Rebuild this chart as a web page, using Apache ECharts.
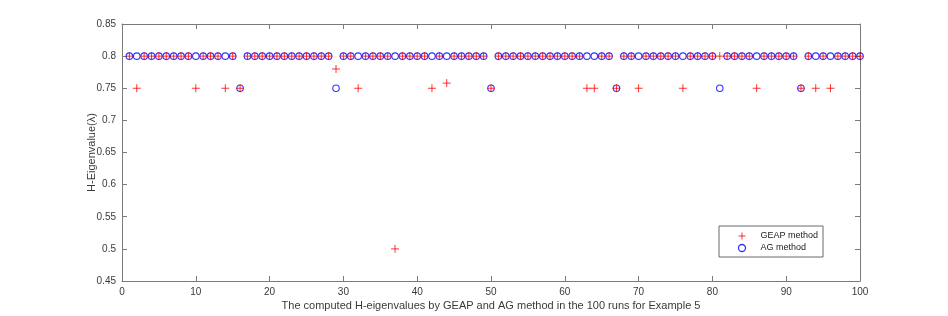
<!DOCTYPE html>
<html>
<head>
<meta charset="utf-8">
<script src="https://cdn.jsdelivr.net/npm/echarts@6/dist/echarts.min.js"></script>
<style>
html,body{margin:0;padding:0;background:#fff;}
#c{width:948px;height:316px;}
</style>
</head>
<body>
<div id="c"></div>
<script>
var runs = [1,2,3,4,5,6,7,8,9,10,11,12,13,14,15,16,17,18,19,20,
  21,22,23,24,25,26,27,28,29,30,31,32,33,34,35,36,37,38,39,40,
  41,42,43,44,45,46,47,48,49,50,51,52,53,54,55,56,57,58,59,60,
  61,62,63,64,65,66,67,68,69,70,71,72,73,74,75,76,77,78,79,80,
  81,82,83,84,85,86,87,88,89,90,91,92,93,94,95,96,97,98,99,100];

var geapValues = [
  0.8,0.75,0.8,0.8,0.8,0.8,0.8,0.8,0.8,0.75,
  0.8,0.8,0.8,0.75,0.8,0.75,0.8,0.8,0.8,0.8,
  0.8,0.8,0.8,0.8,0.8,0.8,0.8,0.8,0.78,0.8,
  0.8,0.75,0.8,0.8,0.8,0.8,0.5,0.8,0.8,0.8,
  0.8,0.75,0.8,0.758,0.8,0.8,0.8,0.8,0.8,0.75,
  0.8,0.8,0.8,0.8,0.8,0.8,0.8,0.8,0.8,0.8,
  0.8,0.8,0.75,0.75,0.8,0.8,0.75,0.8,0.8,0.75,
  0.8,0.8,0.8,0.8,0.8,0.75,0.8,0.8,0.8,0.8,
  0.8,0.8,0.8,0.8,0.8,0.75,0.8,0.8,0.8,0.8,
  0.8,0.75,0.8,0.75,0.8,0.75,0.8,0.8,0.8,0.8];

var agValues = [
  0.8,0.8,0.8,0.8,0.8,0.8,0.8,0.8,0.8,0.8,
  0.8,0.8,0.8,0.8,0.8,0.75,0.8,0.8,0.8,0.8,
  0.8,0.8,0.8,0.8,0.8,0.8,0.8,0.8,0.75,0.8,
  0.8,0.8,0.8,0.8,0.8,0.8,0.8,0.8,0.8,0.8,
  0.8,0.8,0.8,0.8,0.8,0.8,0.8,0.8,0.8,0.75,
  0.8,0.8,0.8,0.8,0.8,0.8,0.8,0.8,0.8,0.8,
  0.8,0.8,0.8,0.8,0.8,0.8,0.75,0.8,0.8,0.8,
  0.8,0.8,0.8,0.8,0.8,0.8,0.8,0.8,0.8,0.8,
  0.75,0.8,0.8,0.8,0.8,0.8,0.8,0.8,0.8,0.8,
  0.8,0.75,0.8,0.8,0.8,0.8,0.8,0.8,0.8,0.8];

var seriesNames = ['GEAP method', 'AG method'];
var xTitle = 'The computed H-eigenvalues by GEAP and AG method in the 100 runs for Example 5';
var yTitle = 'H-Eigenvalue(\u03bb)';

var plusPath = 'path://M0,5L10,5M5,0L5,10';
var FONT = 'Liberation Sans';
var AX = '#7a7a7a';
var TXT = '#3a3a3a';

function pairs(xs, ys){ return xs.map(function(x,i){ return [x, ys[i]]; }); }

var chart = echarts.init(document.getElementById('c'), null, {renderer:'canvas'});
var axisCommon = {
  axisLine:{show:true, onZero:false, lineStyle:{color:AX, width:1}},
  axisTick:{show:true, inside:true, length:5, lineStyle:{color:AX}},
  splitLine:{show:false}
};
chart.setOption({
  animation:false,
  backgroundColor:'#fff',
  grid:{left:122, right:88, top:24, bottom:35, containLabel:false},
  xAxis:[
    Object.assign({type:'value', min:0, max:100, interval:10, position:'bottom',
      name:xTitle, nameLocation:'middle', nameGap:19, nameMoveOverlap:false,
      nameTextStyle:{fontFamily:FONT, fontSize:11, color:TXT},
      axisLabel:{fontFamily:FONT, fontSize:10, color:TXT, margin:6}}, axisCommon),
    Object.assign({type:'value', min:0, max:100, interval:10, position:'top',
      axisLabel:{show:false}}, axisCommon)
  ],
  yAxis:[
    Object.assign({type:'value', min:0.45, max:0.85, interval:0.05, position:'left',
      name:yTitle, nameLocation:'middle', nameGap:25, nameMoveOverlap:false,
      nameTextStyle:{fontFamily:FONT, fontSize:11, color:TXT},
      axisLabel:{fontFamily:FONT, fontSize:10, color:TXT, margin:6,
        formatter:function(v){ return String(Math.round(v*100)/100); }}}, axisCommon),
    Object.assign({type:'value', min:0.45, max:0.85, interval:0.05, position:'right',
      axisLabel:{show:false}}, axisCommon)
  ],
  legend:{
    orient:'vertical', left:719, top:226,
    backgroundColor:'#fff', borderColor:'#444', borderWidth:0.8,
    padding:[4, 5, 3, 17], itemGap:0, itemWidth:7, itemHeight:7,
    textStyle:{fontFamily:FONT, fontSize:9, lineHeight:10, color:'#222', padding:[0,0,0,10]},
    data:[
      {name:seriesNames[0], icon:plusPath, itemStyle:{color:'none', borderColor:'#ff0000', borderWidth:1}},
      {name:seriesNames[1], icon:'circle', itemStyle:{color:'none', borderColor:'#0000ff', borderWidth:1.3}}
    ]
  },
  series:[
    {name:seriesNames[1], type:'scatter', xAxisIndex:0, yAxisIndex:0, clip:false,
      symbol:'circle', symbolSize:6.5, data:pairs(runs, agValues),
      itemStyle:{color:'none', borderColor:'#0000ff', borderWidth:1.1}, z:2},
    {name:seriesNames[0], type:'scatter', xAxisIndex:0, yAxisIndex:0, clip:false,
      symbol:plusPath, symbolSize:8, data:pairs(runs, geapValues),
      itemStyle:{color:'none', borderColor:'#ff0000', borderWidth:1}, z:3}
  ]
});
</script>
</body>
</html>
